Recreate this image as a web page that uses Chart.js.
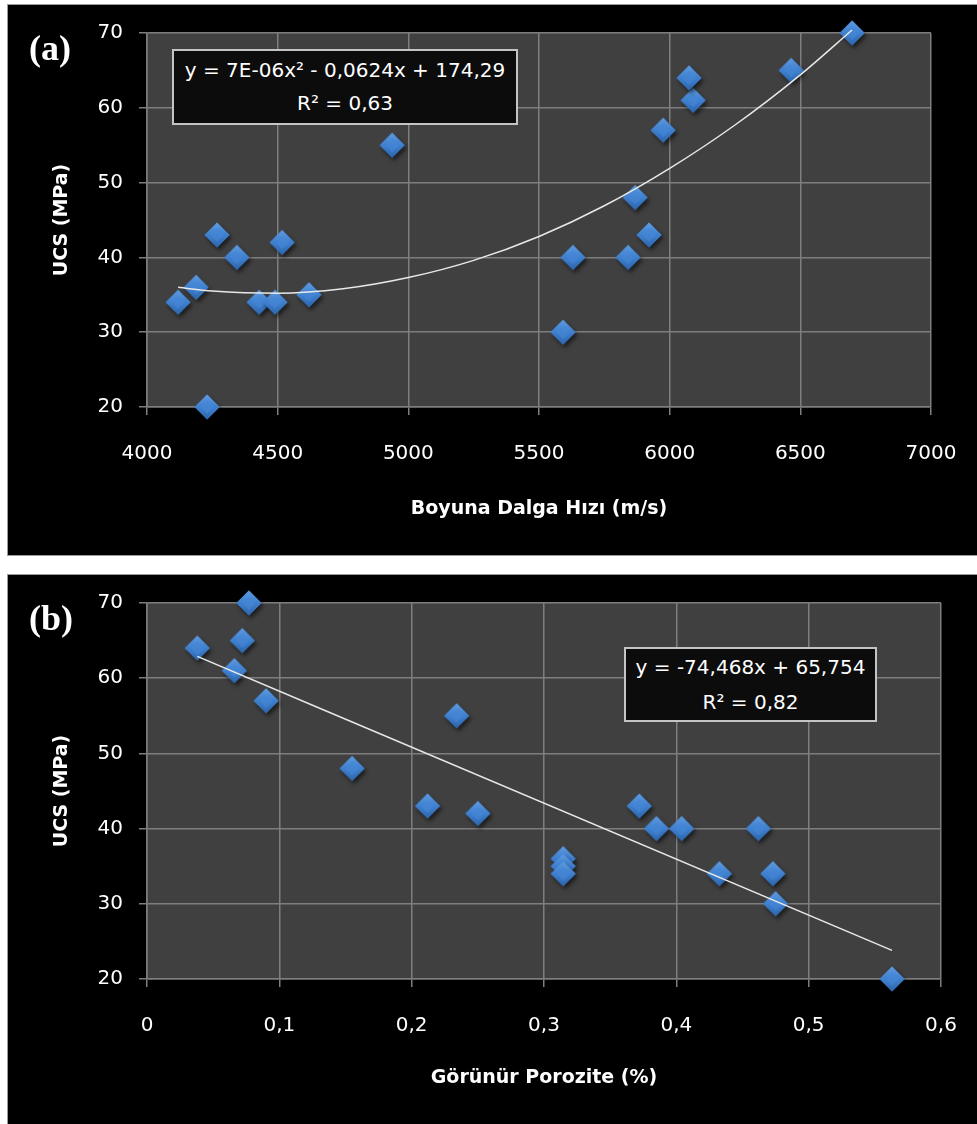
<!DOCTYPE html>
<html>
<head>
<meta charset="utf-8">
<script src="https://cdn.jsdelivr.net/npm/chart.js@4.4.0/dist/chart.umd.min.js"></script>
<style>
  body { margin: 0; background: #fff; width: 977px; height: 1124px; overflow: hidden; position: relative; }
  .panel { position: absolute; left: 7px; width: 970px; background: #000; border: 1px solid #9a9a9a; border-right: none; }
  .panel canvas { display: block; }
  .tag { position: absolute; left: 29px; color: #fff; font: bold 36px "Liberation Serif", serif; line-height: 36px; }
  .eq { position: absolute; box-sizing: border-box; background: #0c0c0c; border: 2px solid #c4c4c4;
        color: #fff; font: 20px "DejaVu Sans", sans-serif; text-align: center; white-space: nowrap; }
</style>
</head>
<body>
<div class="panel" id="pa" style="top:4px;height:550px"><canvas id="ca" width="969" height="550"></canvas></div>
<div class="panel" id="pb" style="top:574px;height:560px"><canvas id="cb" width="969" height="549"></canvas></div>

<div class="tag" style="top:30px">(a)</div>
<div class="tag" style="top:600px">(b)</div>

<div class="eq" style="left:172px;top:49px;width:346px;height:76px;padding-top:3px;line-height:33px">
  y = 7E-06x² - 0,0624x + 174,29<br>R² = 0,63
</div>
<div class="eq" style="left:624px;top:647px;width:253px;height:75px;padding-top:1px;line-height:35px">
  y = -74,468x + 65,754<br>R² = 0,82
</div>

<script>
// (a) boyuna dalga hizi vs UCS
const vpA = [4119, 4188, 4268, 4344, 4517, 4429, 4490, 4620, 4230, 4938, 5592, 5630, 5841, 5921, 5868, 5975, 6090, 6074, 6465, 6698]
const ucsA = [34, 36, 43, 40, 42, 34, 34, 35, 20, 55, 30, 40, 40, 43, 48, 57, 61, 64, 65, 70]
// trend line
const trendAX = [4119, 4250, 4500, 4750, 5000, 5250, 5500, 5750, 6000, 6250, 6500, 6698]
const trendAY = [36.0, 35.5, 35.2, 35.8, 37.3, 39.6, 42.8, 46.9, 51.9, 57.7, 64.4, 70.4]

// (b) gorunur porozite vs UCS
const porB = [0.038, 0.077, 0.072, 0.066, 0.090, 0.155, 0.234, 0.212, 0.250, 0.372, 0.385, 0.404, 0.462, 0.3145, 0.3145, 0.3145, 0.4325, 0.473, 0.475, 0.563]
const ucsB = [64, 70, 65, 61, 57, 48, 55, 43, 42, 43, 40, 40, 40, 36, 35, 34, 34, 34, 30, 20]
const trendBX = [0.038, 0.563]
const trendBY = [62.9, 23.8]

const yTicks = [20, 30, 40, 50, 60, 70]
const xTicksA = [4000, 4500, 5000, 5500, 6000, 6500, 7000]
const xTicksB = [0, 0.1, 0.2, 0.3, 0.4, 0.5, 0.6]

const FONT = '"DejaVu Sans", sans-serif'

// bevelled blue diamond like the excel marker
function makeDiamond() {
    const c = document.createElement('canvas')
    c.width = 40
    c.height = 40
    const g = c.getContext('2d')
    const cx = 20, cy = 20, r = 12.5
    const path = () => {
        g.beginPath()
        g.moveTo(cx - r, cy)
        g.lineTo(cx, cy - r)
        g.lineTo(cx + r, cy)
        g.lineTo(cx, cy + r)
        g.closePath()
    }
    g.shadowColor = 'rgba(0,0,0,0.6)'
    g.shadowBlur = 4
    g.shadowOffsetX = 2
    g.shadowOffsetY = 3
    path()
    g.fillStyle = '#3b78c4'
    g.fill()
    g.shadowColor = 'transparent'
    const grad = g.createLinearGradient(cx, cy - r, cx, cy + r)
    grad.addColorStop(0, '#5f9be0')
    grad.addColorStop(0.5, '#3f80cf')
    grad.addColorStop(1, '#2d66ad')
    path()
    g.fillStyle = grad
    g.fill()
    // inner facet
    const k = 0.55
    g.beginPath()
    g.moveTo(cx - r * k, cy)
    g.lineTo(cx, cy - r * k)
    g.lineTo(cx + r * k, cy)
    g.lineTo(cx, cy + r * k)
    g.closePath()
    g.fillStyle = 'rgba(70,135,215,0.6)'
    g.fill()
    return c
}

const plotBg = {
    id: 'plotBg',
    beforeDraw(chart) {
        const {ctx, chartArea: a} = chart
        ctx.save()
        ctx.fillStyle = '#404040'
        ctx.fillRect(a.left, a.top, a.right - a.left, a.bottom - a.top)
        ctx.restore()
    }
}

function makeChart(canvas, pts, trend, xt, xTitle, xFmt, rightPad, xHeight) {
    const diamond = makeDiamond()
    return new Chart(canvas.getContext('2d'), {
        type: 'scatter',
        data: {
            datasets: [
                {
                    type: 'line',
                    data: trend,
                    borderColor: '#e8e8e8',
                    borderWidth: 1.5,
                    pointRadius: 0,
                    cubicInterpolationMode: 'monotone',
                    clip: false,
                    order: 0
                },
                {
                    data: pts,
                    pointStyle: diamond,
                    pointRadius: 12,
                    clip: false,
                    order: 1
                }
            ]
        },
        options: {
            responsive: false,
            animation: false,
            layout: { autoPadding: false, padding: { top: 28, right: rightPad, bottom: 0, left: 0 } },
            plugins: { legend: { display: false }, tooltip: { enabled: false } },
            scales: {
                x: {
                    type: 'linear',
                    min: xt[0],
                    max: xt[xt.length - 1],
                    afterBuildTicks: s => { s.ticks = xt.map(v => ({ value: v })) },
                    afterFit: s => {
                        s.height = xHeight
                        // labels may overhang, the black margin has room for them
                        s.paddingLeft = 0
                        s.paddingRight = 0
                    },
                    grid: { color: '#7e7e7e', lineWidth: 1.5, tickLength: 8 },
                    border: { color: '#7e7e7e', width: 1.5 },
                    ticks: { color: '#fff', font: { family: FONT, size: 20 }, padding: 27, maxRotation: 0, callback: xFmt },
                    title: { display: true, text: xTitle, color: '#fff', font: { family: FONT, size: 19, weight: 'bold' }, padding: { bottom: 35 } }
                },
                y: {
                    min: 20,
                    max: 70,
                    afterBuildTicks: s => { s.ticks = yTicks.map(v => ({ value: v })) },
                    afterFit: s => { s.width = 139 },
                    grid: { color: '#7e7e7e', lineWidth: 1.5, tickLength: 8 },
                    border: { color: '#7e7e7e', width: 1.5 },
                    ticks: { color: '#fff', font: { family: FONT, size: 20 }, padding: 16 },
                    title: { display: true, text: 'UCS (MPa)', color: '#fff', font: { family: FONT, size: 19, weight: 'bold' }, padding: { top: 43 } }
                }
            }
        },
        plugins: [plotBg]
    })
}

const ptsA = vpA.map((x, i) => ({ x, y: ucsA[i] }))
const trA = trendAX.map((x, i) => ({ x, y: trendAY[i] }))
const ptsB = porB.map((x, i) => ({ x, y: ucsB[i] }))
const trB = trendBX.map((x, i) => ({ x, y: trendBY[i] }))

makeChart(document.getElementById('ca'), ptsA, trA, xTicksA, 'Boyuna Dalga Hızı (m/s)', v => String(v), 46, 148)
makeChart(document.getElementById('cb'), ptsB, trB, xTicksB, 'Görünür Porozite (%)',
    v => String(Number(v.toFixed(1))).replace('.', ','), 36, 145)
</script>
</body>
</html>
